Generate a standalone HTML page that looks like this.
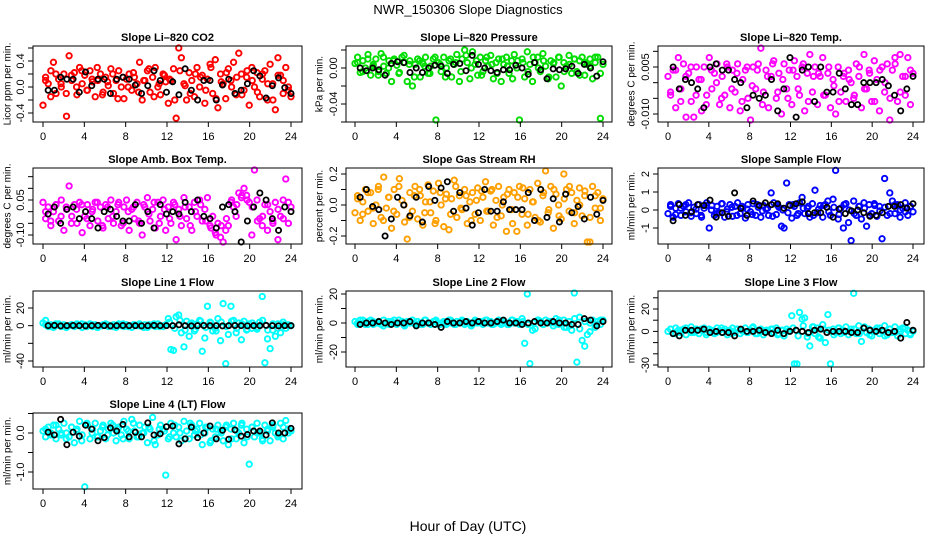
<!DOCTYPE html>
<html><head><meta charset="utf-8"><style>
body{margin:0;background:#fff;}
svg{display:block;font-family:"Liberation Sans",sans-serif;}
</style></head><body>
<svg id="chart" width="936" height="540" viewBox="0 0 936 540" xmlns="http://www.w3.org/2000/svg">
<text x="468" y="14" text-anchor="middle" font-size="13">NWR_150306  Slope Diagnostics</text>
<text x="468" y="531" text-anchor="middle" font-size="14">Hour of Day (UTC)</text>
</svg>
<script>
const xTicks=[0,4,8,12,16,20,24];
const co2Vals=[-0.28,0.15,0.05,0.25,0.38,-0.1,0.12,0.0,0.2,-0.45,0.48,0.1,0.22,-0.12,0.3,0.05,0.18,-0.05,0.25,0.08,-0.15,0.1,0.2,-0.08,0.15,0.02,0.28,-0.1,0.1,0.25,0.0,-0.18,0.12,0.2,-0.05,0.15,0.05,0.38,-0.2,0.1,0.25,-0.08,0.15,0.3,0.0,-0.12,0.2,0.08,-0.25,0.1,0.28,-0.48,0.62,0.45,0.05,-0.2,0.22,0.1,-0.15,0.3,0.0,0.18,-0.25,0.12,0.35,-0.1,0.42,-0.32,0.2,0.05,-0.18,0.28,0.1,0.38,-0.12,0.52,0.2,-0.05,0.15,-0.28,0.3,0.0,0.22,-0.15,0.12,0.25,-0.2,0.35,0.05,-0.35,0.45,0.18,-0.1,0.3,0.0,-0.15];
const co2Vals2=[0.1,-0.15,0.2,0.05,-0.1,0.18,0.0,0.25,-0.05,0.12,0.3,-0.12,0.08,0.2,-0.18,0.15,0.0,0.22,-0.08,0.1,0.28,-0.15,0.05,0.18,0.12,-0.2,0.25,0.02,-0.1,0.2,0.15,-0.05,0.3,-0.18,0.08,0.22,0.0,0.15,-0.12,0.25,0.1,-0.08,0.2,0.05,-0.2,0.18,0.1,-0.05];
const co2Black=[-0.05,-0.05,0.15,0.12,0.12,-0.08,0.23,0.02,0.12,0.12,-0.1,0.12,0.15,0.12,0.03,-0.1,0.02,0.25,0.1,-0.08,0.08,-0.12,0.28,-0.05,-0.2,0.1,0.1,-0.2,0.03,0.12,-0.1,-0.05,0.05,0.25,0.17,-0.17,0.02,0.14,-0.01,-0.1];
const presVals=[0.005,0.012,-0.005,0.008,0.0,0.015,-0.008,0.004,0.01,-0.004,0.016,0.002,-0.006,0.008,-0.015,0.01,0.003,-0.005,0.012,0.006,-0.015,0.008,-0.02,0.004,0.01,-0.01,0.005,0.012,-0.006,0.002,0.01,-0.058,0.006,-0.004,0.012,0.0,0.008,-0.01,0.004,0.015,-0.015,0.01,0.02,0.006,-0.012,0.018,0.004,-0.008,0.012,-0.004,0.008,0.002,0.014,-0.012,0.006,0.01,-0.015,0.004,0.012,-0.006,0.008,0.015,0.0,-0.058,0.01,-0.01,0.018,0.004,-0.015,0.006,0.012,-0.004,0.016,0.002,-0.012,0.008,0.005,-0.01,0.012,-0.02,0.006,0.002,0.014,-0.006,0.01,-0.004,0.008,0.012,-0.008,0.004,0.01,-0.012,0.006,0.012,-0.056,0.004];
const presVals2=[0.006,-0.004,0.01,0.002,-0.008,0.012,0.0,0.008,-0.006,0.014,0.004,-0.01,0.008,0.002,-0.006,0.012,0.004,-0.01,0.01,0.006,-0.004,0.014,0.0,0.008,-0.008,0.012,0.004,-0.006,0.01,0.002,-0.012,0.008,0.006,-0.004,0.012,0.0,0.008,-0.01,0.006,0.012,-0.004,0.004,0.01,-0.008,0.006,0.002,0.012,-0.006];
const presBlack=[0.0,-0.003,0.0,-0.002,-0.008,0.005,0.007,0.006,-0.005,0.0,-0.005,0.0,0.003,0.002,-0.006,0.004,0.005,-0.003,0.014,0.004,0.0,-0.003,-0.005,-0.002,-0.002,0.003,0.0,-0.007,0.006,-0.002,-0.012,-0.001,-0.002,-0.001,0.002,-0.006,0.004,0.0,-0.009,0.007];
const tempVals=[0.002,-0.004,0.004,-0.008,0.008,-0.002,0.006,-0.011,0.003,-0.006,-0.011,0.005,0.001,-0.009,0.005,-0.004,0.008,-0.002,0.003,0.006,-0.007,0.002,-0.004,0.005,-0.008,0.004,-0.003,0.006,-0.009,0.001,0.004,-0.005,-0.012,0.005,-0.002,0.006,0.011,-0.003,0.004,-0.008,0.002,0.007,-0.005,0.003,-0.010,0.006,-0.002,0.004,-0.007,0.007,0.002,-0.004,0.005,-0.009,0.003,0.009,-0.003,0.005,-0.007,0.002,0.008,-0.004,0.003,-0.008,0.001,-0.010,0.005,-0.003,0.002,-0.006,0.004,0.0,-0.005,0.006,0.002,-0.008,0.009,-0.002,0.004,-0.006,0.007,0.001,-0.009,0.005,-0.003,0.006,-0.012,0.004,0.008,-0.006,0.009,0.002,-0.004,0.008,-0.007,0.003];
const tempVals2=[-0.003,0.004,-0.006,0.002,0.005,-0.004,0.001,-0.007,0.004,0.0,-0.005,0.006,-0.002,0.003,-0.006,0.005,-0.001,0.004,-0.007,0.002,0.006,-0.003,0.001,-0.005,0.004,-0.002,0.006,-0.006,0.002,0.003,-0.004,0.005,-0.001,-0.006,0.003,0.001,-0.004,0.005,-0.002,0.003,-0.006,0.004,0.0,-0.005,0.006,-0.003,0.002,0.004];
const tempBlack=[0.005,-0.002,0.001,0.0,-0.002,-0.008,0.005,0.006,0.004,0.004,0.001,0.0,-0.008,-0.004,-0.005,-0.004,0.001,-0.009,-0.002,0.008,-0.011,0.004,0.005,-0.006,0.005,-0.003,-0.003,0.003,-0.002,-0.007,-0.007,0.0,0.0,0.0,0.001,-0.001,-0.004,-0.009,-0.002,0.002];
const ambVals=[0.04,-0.03,0.02,-0.06,0.0,0.03,-0.04,0.05,-0.08,0.01,0.11,-0.02,0.03,-0.05,0.04,-0.09,-0.02,0.03,-0.06,0.01,0.04,-0.04,0.02,-0.07,0.03,-0.03,0.05,-0.05,0.0,0.04,-0.06,0.02,0.05,-0.08,0.01,-0.03,0.04,-0.05,-0.1,0.02,0.06,-0.04,0.01,-0.07,0.04,-0.02,0.05,-0.08,0.02,-0.05,0.04,-0.12,0.01,-0.06,0.06,-0.03,0.02,-0.08,0.04,-0.02,0.05,-0.04,0.01,0.06,-0.06,-0.02,-0.09,-0.05,-0.11,-0.13,-0.08,-0.06,0.04,0.02,-0.02,0.08,0.06,0.1,0.07,0.04,-0.1,0.2,0.05,-0.03,-0.06,0.03,-0.08,0.0,-0.04,0.04,-0.12,-0.02,0.05,0.14,-0.05,0.02];
const ambVals2=[0.0,-0.04,0.03,-0.02,0.02,-0.05,0.01,0.03,-0.03,0.0,0.04,-0.06,0.02,-0.02,0.03,-0.05,0.0,0.02,-0.04,0.03,-0.01,0.04,-0.05,0.01,-0.03,0.03,-0.02,0.02,-0.06,0.0,0.03,-0.04,-0.07,-0.1,-0.06,-0.03,0.05,0.03,0.07,0.05,0.02,-0.04,-0.02,0.03,-0.05,0.01,-0.03,0.04];
const ambBlack=[-0.01,0.02,-0.05,0.01,0.02,-0.03,0.0,-0.03,-0.07,0.0,0.01,-0.02,-0.04,-0.04,0.03,-0.05,0.0,-0.07,0.03,-0.01,0.0,-0.01,0.04,0.0,0.05,-0.02,-0.03,-0.07,0.02,0.03,0.0,-0.13,-0.04,0.02,0.08,0.05,-0.03,-0.08,0.02,0.0];
const rhVals=[-0.05,0.06,-0.1,0.02,0.1,-0.04,0.08,-0.12,0.0,0.12,-0.08,0.18,-0.02,0.05,-0.15,0.1,-0.06,0.17,0.03,-0.11,-0.22,0.08,-0.04,0.12,-0.09,0.06,-0.13,0.02,0.13,-0.05,0.09,-0.1,0.14,0.0,-0.14,0.07,-0.16,0.04,0.16,-0.08,0.06,-0.03,0.1,-0.12,0.02,0.08,-0.06,0.11,-0.1,0.05,0.15,-0.04,0.09,-0.13,0.03,0.12,-0.07,0.05,-0.17,0.1,-0.03,0.08,-0.17,0.12,-0.06,0.04,-0.13,0.1,0.02,-0.08,0.14,-0.11,0.06,0.22,-0.05,0.12,-0.15,0.07,0.0,-0.09,0.2,0.1,-0.04,0.08,-0.12,0.03,0.11,-0.07,0.06,-0.24,-0.24,0.12,-0.02,0.08,-0.1,0.04];
const rhVals2=[0.04,-0.06,0.08,-0.02,0.1,-0.1,0.05,-0.04,0.12,0.0,-0.08,0.06,0.1,-0.05,0.02,-0.12,0.08,0.04,-0.06,0.12,-0.02,0.06,-0.1,0.03,0.09,-0.04,0.1,-0.08,0.0,0.07,-0.12,0.05,0.11,-0.06,0.02,-0.1,0.08,-0.03,0.1,-0.07,0.04,0.12,-0.05,0.0,0.09,-0.08,0.06,-0.02];
const rhBlack=[0.05,0.1,-0.01,-0.03,-0.2,-0.09,0.05,0.0,-0.07,0.05,-0.11,0.12,0.03,0.11,0.15,-0.04,0.08,-0.02,-0.13,-0.05,0.1,-0.04,-0.04,0.02,-0.03,-0.03,-0.03,0.08,-0.1,0.1,-0.08,0.04,-0.11,0.07,-0.05,-0.01,-0.09,0.05,-0.06,0.03];
const sampVals=[-0.2,0.3,-0.4,0.1,0.35,-0.3,0.2,-0.1,0.4,-0.35,0.15,-0.2,0.3,-0.4,0.1,0.4,-1.0,0.25,-0.3,0.2,-0.15,0.35,-0.4,0.05,0.3,-0.35,0.2,0.4,-0.2,0.1,-0.45,0.3,-0.1,0.35,-0.3,0.15,-0.4,0.25,0.05,-0.3,0.95,0.4,-0.25,0.15,-0.9,-1.0,1.5,0.3,-0.45,0.2,-0.3,0.4,0.7,-0.2,0.1,-0.4,0.35,1.1,-0.15,0.25,-0.4,0.3,0.5,-0.3,0.6,2.2,-0.5,0.1,-1.0,0.35,-0.7,-1.7,0.5,-0.3,0.2,-0.5,0.4,-0.9,0.3,-0.2,0.35,-0.35,0.2,-1.6,1.75,-0.3,0.95,0.5,-0.2,0.3,-0.4,0.1,0.4,-0.3,0.2,-0.1];
const sampVals2=[0.2,-0.25,0.1,0.3,-0.15,0.05,-0.3,0.25,0.0,-0.2,0.35,-0.1,0.15,-0.3,0.2,0.05,-0.25,0.3,-0.05,0.1,-0.35,0.25,0.0,-0.15,0.3,-0.2,0.1,0.2,-0.3,0.05,0.25,-0.1,0.15,-0.25,0.3,0.0,-0.2,0.2,0.1,-0.3,0.25,-0.05,0.15,-0.2,0.3,0.0,-0.1,0.2];
const sampBlack=[-0.6,0.3,-0.3,-0.1,0.3,0.25,0.55,-0.4,-0.15,-0.35,0.95,0.1,-0.3,0.5,0.25,0.4,0.3,0.35,0.1,0.25,0.35,0.45,-0.2,-0.15,-0.15,0.15,-0.4,0.05,-0.2,-0.05,0.0,-0.15,-0.35,-0.3,-0.15,0.2,0.2,0.3,0.1,0.35];
const l1Vals=[3,6,-1,1,-2,0,2,-1,1,-2,0,1,-1,2,0,-2,1,0,2,-1,1,-2,0,1,2,-1,0,1,-2,2,0,-1,1,0,-2,1,0,2,-1,1,-2,0,1,-1,2,0,-1,1,8,-27,-28,10,12,-8,-24,5,-12,3,-6,2,6,-29,-14,22,4,-6,-3,8,-17,25,-43,-10,22,6,-8,3,-16,5,-5,2,-3,0,-4,4,33,-42,-15,-26,-5,-12,2,-8,4,-3,1,0];
const l1Vals2=[1,-1,2,0,-2,1,0,2,-1,1,-2,0,1,-1,0,2,-1,1,0,-2,1,2,-1,0,4,-3,6,-5,2,-4,5,-2,3,-6,4,-1,5,-3,2,-4,3,-2,6,-5,2,-3,1,0];
const l1Black=[0,0.3,-0.3,0,0.2,0,-0.2,0,0.3,0,-0.3,0,0.2,0,0,-0.2,0,0.3,0,0,0,1,0,-0.3,0,0.2,0,0,-0.3,0,0.2,0,-0.2,0,0,0.3,0,-0.2,0,0];
const l2Vals=[1,-1,2,0,-1,1,2,-1,0,1,-1,2,0,-1,1,2,-1,0,1,-2,1,0,2,-1,1,0,-1,2,0,-1,1,2,-1,0,1,-1,2,0,-1,1,0,2,-1,1,0,-1,2,0,1,-1,2,0,1,-1,0,2,-1,1,0,-1,2,0,1,-1,3,-14,20,-28,-5,-4,2,1,-1,2,0,1,-2,3,-1,0,2,-3,1,-5,21,-27,4,-12,-16,-8,-6,2,-3,1,-1,2];
const l2Vals2=[0,2,-1,1,0,-2,1,0,2,-1,1,0,-1,2,0,1,-1,0,2,-1,1,0,-2,1,0,2,-1,1,0,-1,2,0,1,-1,0,2,-1,1,0,2,-3,-2,3,-4,1,0,-1,2];
const l2Black=[-1,0,0,1,0,-1,0,0,1,-2,0,0,-1,-3,1,0,0,1,0,1,0,0,1,2,0,0,-1,0,1,0,0,1,0,0,-1,-1,3,2,-2,1];
const l3Vals=[0,2,-2,3,1,-1,2,-3,1,4,-1,2,-2,1,3,-1,2,0,-2,3,1,-1,2,-3,1,3,-1,2,-2,0,3,-1,1,4,-2,1,2,-3,1,0,2,-1,3,-2,1,-4,2,0,14,-29,-29,17,11,12,-5,-13,4,-2,3,-6,6,-10,15,-29,2,-1,3,-2,1,4,-3,2,34,-2,5,-9,3,-1,2,-4,1,3,-2,0,5,-3,2,-1,4,-4,2,3,-2,1,-3,0];
const l3Vals2=[2,-2,1,3,-1,0,2,-3,1,-1,3,0,-2,2,1,-1,3,-2,0,1,2,-3,1,0,3,-4,5,-2,4,-5,2,1,-3,3,-1,0,2,-2,4,-3,1,3,-4,2,-1,0,3,-2];
const l3Black=[-2,-4,1,1,1,2,-1,0,-1,-1,-4,2,0,0,1,-1,-2,1,-2,0,1,0,-1,1,2,-1,0,0,0,-1,-1,3,1,0,1,-1,0,-6,8,1];
const l4Vals=[0.05,-0.1,0.15,0.0,0.2,-0.15,0.1,-0.05,0.25,0.0,-0.1,0.15,-0.25,0.1,0.3,-0.05,-1.38,0.2,-0.15,0.1,0.25,-0.1,0.05,0.2,-0.15,0.1,0.25,0.0,-0.2,0.15,-0.05,0.3,0.1,-0.15,0.35,0.05,-0.1,0.2,0.0,0.15,-0.25,0.1,0.4,-0.3,-0.05,0.2,0.1,-1.08,-0.15,0.25,0.0,-0.1,0.15,-0.2,0.3,0.05,-0.15,0.2,-0.05,0.1,0.25,-0.3,0.0,0.15,-0.25,0.1,-0.1,0.2,0.05,-0.2,0.15,-0.3,0.1,0.25,-0.15,0.0,0.2,-0.25,0.1,-0.8,0.15,-0.1,0.25,0.0,-0.15,0.2,0.05,-0.2,0.15,0.0,-0.1,0.25,-0.15,0.32,0.1,0.05];
const l4Vals2=[0.1,-0.05,0.2,0.0,-0.15,0.15,0.05,-0.2,0.25,0.0,-0.1,0.15,-0.05,0.2,0.1,-0.15,0.05,0.25,-0.1,0.0,0.15,-0.2,0.1,0.05,-0.1,0.2,0.0,-0.15,0.25,0.05,-0.05,0.15,-0.2,0.1,0.0,0.2,-0.15,0.05,0.25,-0.1,0.15,0.0,-0.2,0.1,0.2,-0.05,0.15,0.0];
const l4Black=[0.02,-0.05,0.35,-0.3,0.02,-0.08,0.2,0.1,-0.2,-0.12,0.13,0.05,0.22,-0.1,0.02,-0.1,0.26,-0.05,-0.02,0.16,0.18,-0.28,-0.15,0.15,-0.12,0.0,0.18,-0.15,0.07,-0.16,0.08,-0.08,-0.04,0.05,0.05,-0.05,0.26,0.0,0.0,0.12];

const yTicksCo2=[-0.4,-0.2,0,0.2,0.4,0.6], yLabCo2=["-0.4","","0.0","","0.4",""];
const yTicksPres=[-0.06,-0.04,-0.02,0,0.02], yLabPres=["","-0.04","","0.00",""];
const yTicksTemp=[-0.01,-0.005,0,0.005,0.01], yLabTemp=["-0.010","","","0.005",""];
const yTicksAmb=[-0.1,-0.05,0,0.05,0.1,0.15], yLabAmb=["-0.10","","","0.05","",""];
const yTicksRh=[-0.2,-0.1,0,0.1,0.2], yLabRh=["-0.2","","0.0","","0.2"];
const yTicksSamp=[-1,0,1,2], yLabSamp=["-1","0","1","2"];
const yTicksL1=[-40,-20,0,20], yLabL1=["-40","","0","20"];
const yTicksL2=[-20,-10,0,10,20], yLabL2=["-20","","0","","20"];
const yTicksL3=[-30,-20,-10,0,10,20,30], yLabL3=["-30","","","0","","20",""];
const yTicksL4=[-1.0,-0.5,0,0.5], yLabL4=["-1.0","","0.0",""];

const cols=[[33,302,43,291,8],[346,612,355,603,320],[658,924,668,913,632]];
const rows=[[46,122],[168,244],[291,367],[413,489]];
const panels=[
 {name:"co2",title:"Slope Li\u2013820 CO2",yl:"Licor ppm per min.",c:0,r:0,col:"#ff0000",v:co2Vals,v2:co2Vals2,b:co2Black,t:yTicksCo2,l:yLabCo2,ref:[0.4,61,-0.4,113]},
 {name:"pressure",title:"Slope Li\u2013820 Pressure",yl:"kPa per min.",c:1,r:0,col:"#00dd00",v:presVals,v2:presVals2,b:presBlack,t:yTicksPres,l:yLabPres,ref:[0,68,-0.04,104]},
 {name:"temp",title:"Slope Li\u2013820 Temp.",yl:"degrees C per min.",c:2,r:0,col:"#ff00ff",v:tempVals,v2:tempVals2,b:tempBlack,t:yTicksTemp,l:yLabTemp,ref:[0.005,67,-0.01,114]},
 {name:"amb-box-temp",title:"Slope Amb. Box Temp.",yl:"degrees C per min.",c:0,r:1,col:"#ff00ff",v:ambVals,v2:ambVals2,b:ambBlack,t:yTicksAmb,l:yLabAmb,ref:[0.05,200,-0.1,235]},
 {name:"gas-stream-rh",title:"Slope Gas Stream RH",yl:"percent per min.",c:1,r:1,col:"#ffa000",v:rhVals,v2:rhVals2,b:rhBlack,t:yTicksRh,l:yLabRh,ref:[0.2,174,-0.2,236]},
 {name:"sample-flow",title:"Slope Sample Flow",yl:"ml/min per min.",c:2,r:1,col:"#0000ff",v:sampVals,v2:sampVals2,b:sampBlack,t:yTicksSamp,l:yLabSamp,ref:[1,192,-1,228]},
 {name:"line1-flow",title:"Slope Line 1 Flow",yl:"ml/min per min.",c:0,r:2,col:"#00ffff",v:l1Vals,v2:l1Vals2,b:l1Black,t:yTicksL1,l:yLabL1,ref:[20,308,-40,361]},
 {name:"line2-flow",title:"Slope Line 2 Flow",yl:"ml/min per min.",c:1,r:2,col:"#00ffff",v:l2Vals,v2:l2Vals2,b:l2Black,t:yTicksL2,l:yLabL2,ref:[20,294,-20,352]},
 {name:"line3-flow",title:"Slope Line 3 Flow",yl:"ml/min per min.",c:2,r:2,col:"#00ffff",v:l3Vals,v2:l3Vals2,b:l3Black,t:yTicksL3,l:yLabL3,ref:[20,309,-30,365]},
 {name:"line4-flow",title:"Slope Line 4 (LT) Flow",yl:"ml/min per min.",c:0,r:3,col:"#00ffff",v:l4Vals,v2:l4Vals2,b:l4Black,t:yTicksL4,l:yLabL4,ref:[0,433,-1,472]}
];
const NS="http://www.w3.org/2000/svg";
const svg=document.getElementById('chart');
function mk(tag,attrs,parent){const e=document.createElementNS(NS,tag);for(const k in attrs)e.setAttribute(k,attrs[k]);parent.appendChild(e);return e;}
panels.forEach(p=>{
  const [bl,br,x0,x24,ylx]=cols[p.c];const [bt,bb]=rows[p.r];
  const xs=h=>x0+h*(x24-x0)/24;
  const ys=v=>p.ref[1]+(v-p.ref[0])*(p.ref[3]-p.ref[1])/(p.ref[2]-p.ref[0]);
  const clampY=y=>Math.max(bt+2,Math.min(bb-2,y));
  const g=mk('g',{},svg);
  
  
  const t=mk('text',{x:(bl+br)/2,y:bt-5,'text-anchor':'middle','font-size':'11','font-weight':'bold'},g);
  t.textContent=p.title;
  
  
  const yl=mk('text',{x:ylx,y:(bt+bb)/2,'text-anchor':'middle','font-size':'10',transform:`rotate(-90 ${ylx} ${(bt+bb)/2})`,'dominant-baseline':'middle'},g);
  yl.textContent=p.yl;
  
  
  const pts=mk('g',{fill:'none',stroke:p.col,'stroke-width':'1.9'},g);
  
  
  const n=p.v.length;
  p.v.forEach((v,i)=>{
    const c=mk('circle',{cx:xs(i*24/(n-1)),cy:clampY(ys(v)),r:2.7},pts);
    
    
  });
  const n2=p.v2.length;
  p.v2.forEach((v,i)=>{
    const c=mk('circle',{cx:xs((i+0.5)*24/n2),cy:clampY(ys(v)),r:2.7},pts);
    
    
  });
  const bp=mk('g',{fill:'none',stroke:'#000','stroke-width':'1.8'},g);
  
  
  const m=p.b.length;
  p.b.forEach((v,i)=>{
    const c=mk('circle',{cx:xs(0.5+i*23.5/(m-1)),cy:clampY(ys(v)),r:2.6},bp);
    
    
  });
  const box=mk('rect',{x:bl,y:bt,width:br-bl,height:bb-bt,fill:'none',stroke:'#000','stroke-width':'1'},g);
  
  
  xTicks.forEach(h=>{
    const x=xs(h);
    mk('line',{x1:x,y1:bb,x2:x,y2:bb+5,stroke:'#000'},g);
    const tl=mk('text',{x:x,y:bb+18,'text-anchor':'middle','font-size':'11'},g);
    tl.textContent=h;
    
    
  });
  p.t.forEach((v,i)=>{
    const y=ys(v);if(y<bt-1||y>bb+1)return;
    mk('line',{x1:bl-5,y1:y,x2:bl,y2:y,stroke:'#000'},g);
    if(p.l[i]){
      const tl=mk('text',{x:bl-9,y:y,'text-anchor':'middle','font-size':'11',transform:`rotate(-90 ${bl-9} ${y})`},g);
      tl.textContent=p.l[i];
      
      
    }
  });
});
</script>
</body></html>
